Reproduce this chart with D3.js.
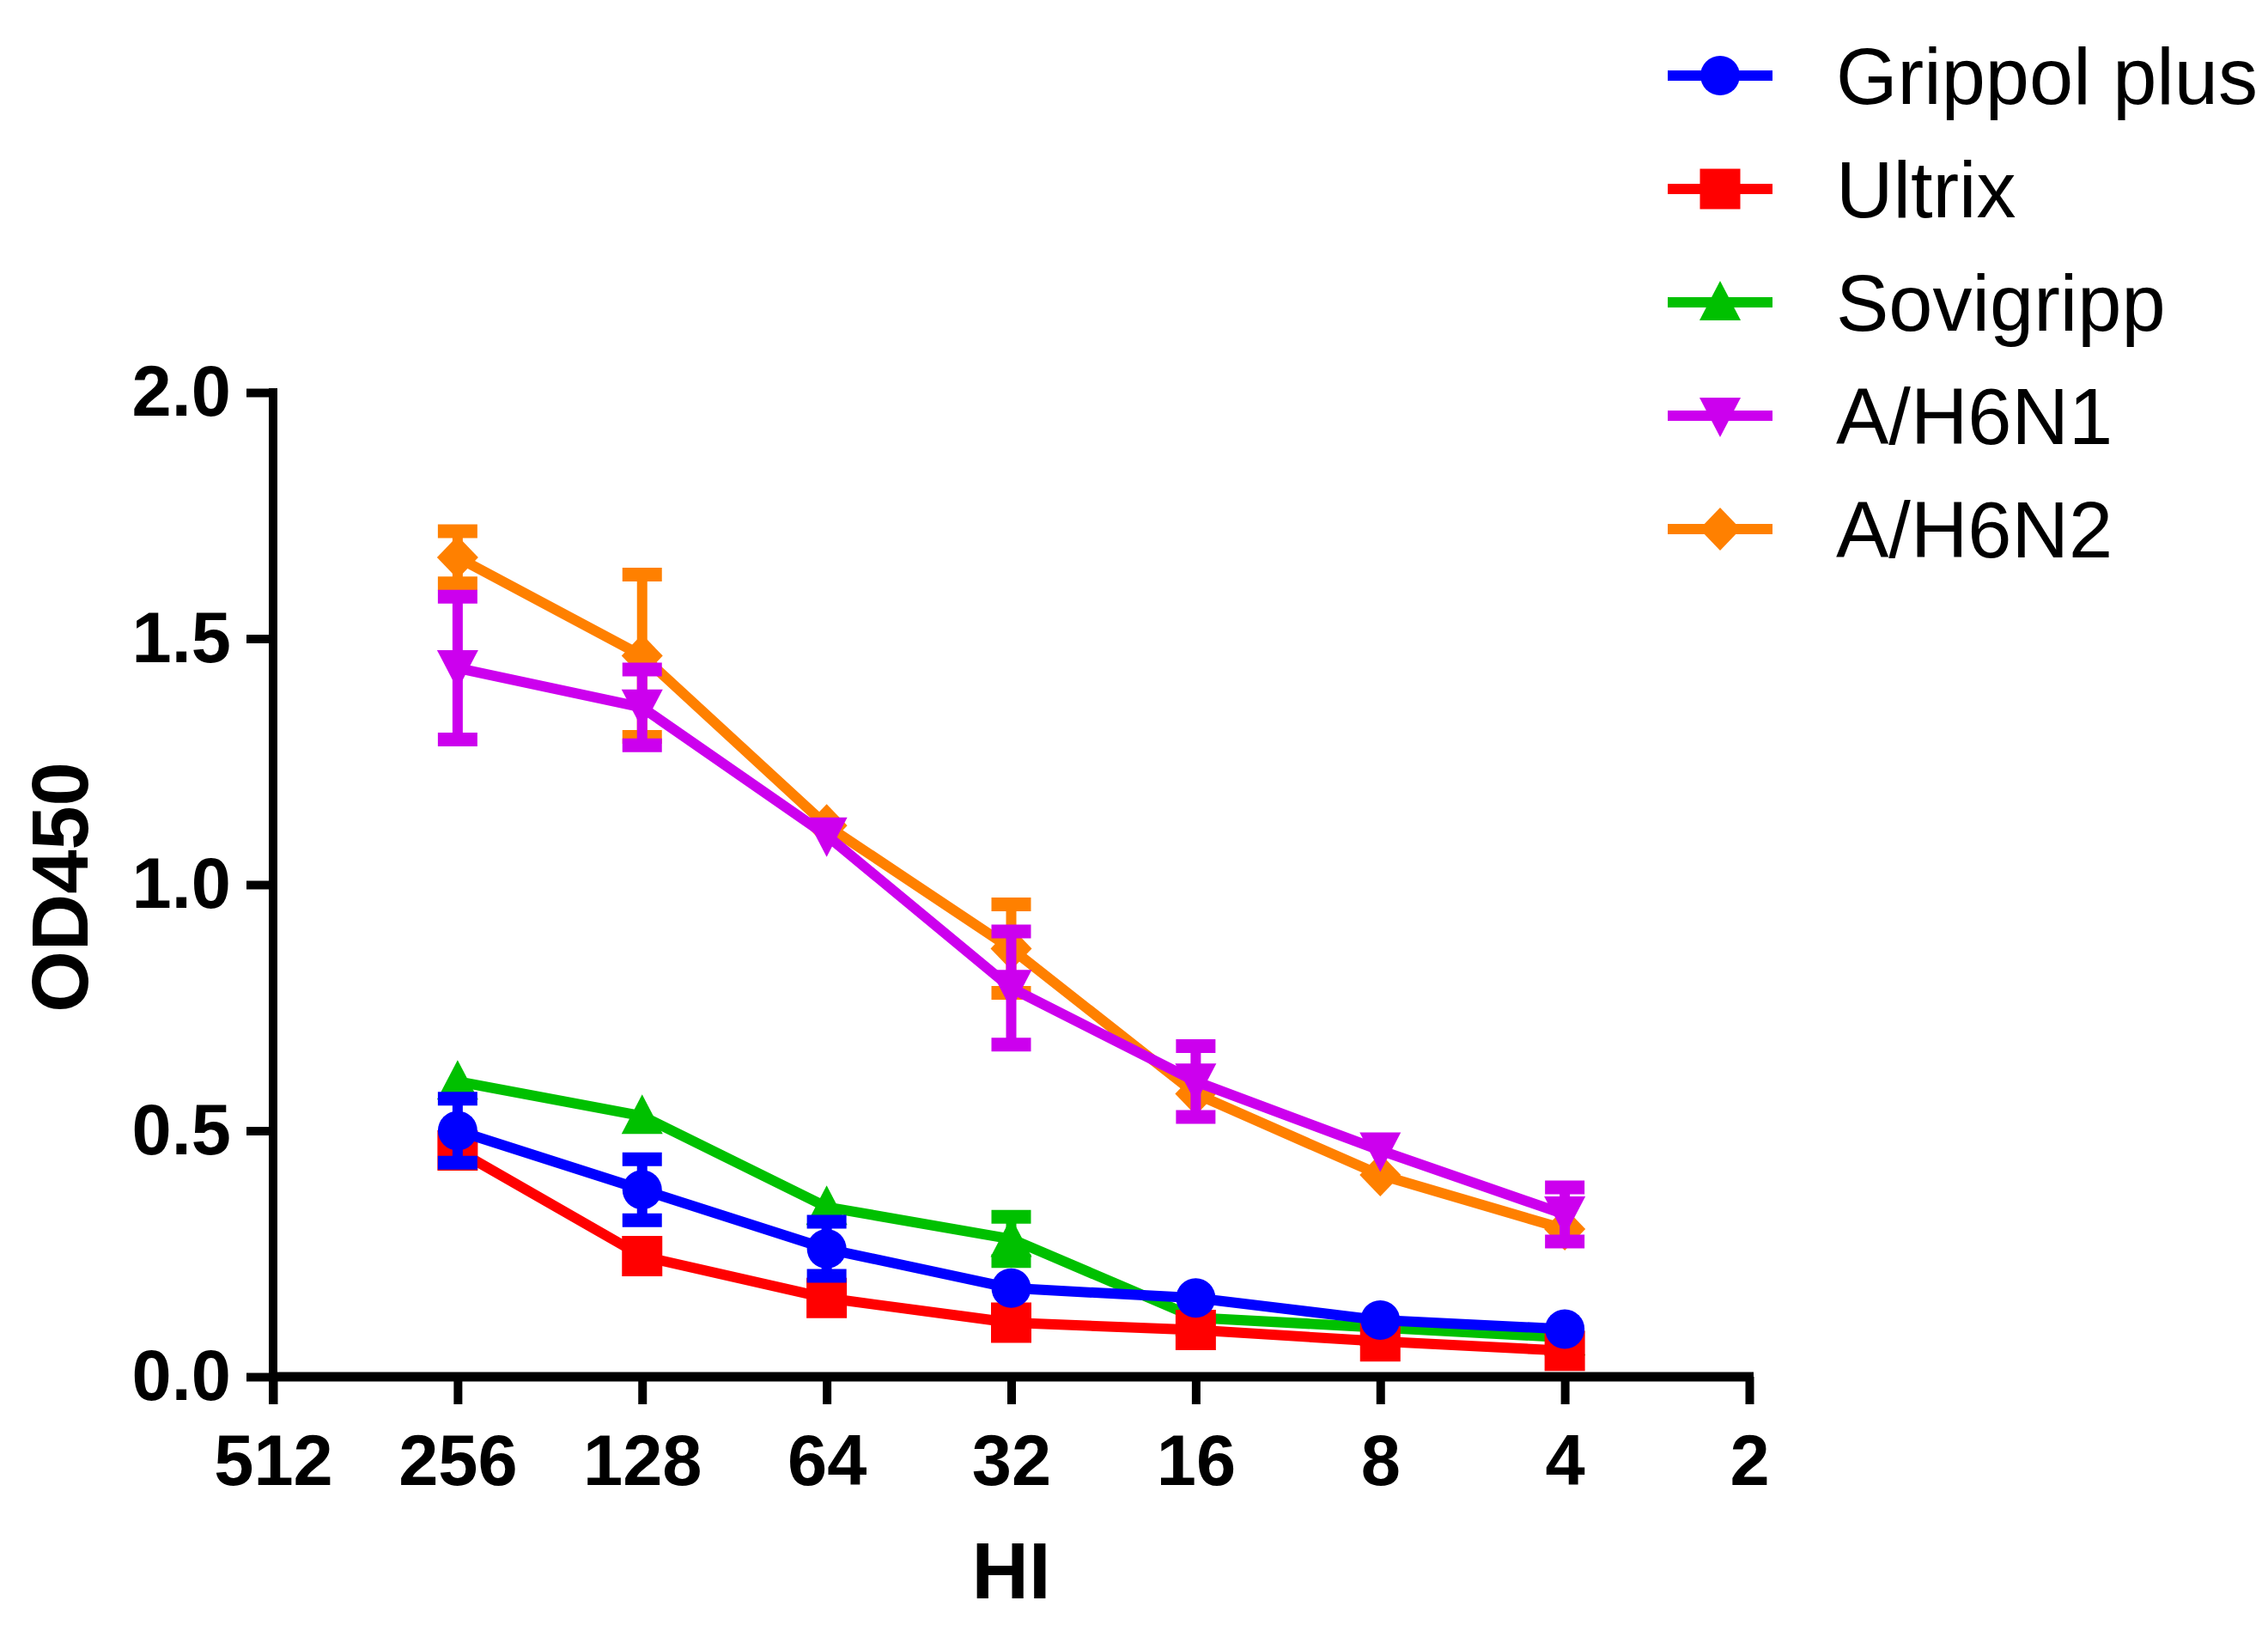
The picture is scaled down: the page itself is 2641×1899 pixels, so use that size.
<!DOCTYPE html>
<html>
<head>
<meta charset="utf-8">
<script src="https://cdn.jsdelivr.net/npm/d3@7"></script>
<style>
  html, body { margin: 0; padding: 0; background: #ffffff; }
  svg { display: block; }
  text { font-family: "Liberation Sans", Arial, Helvetica, sans-serif; }
</style>
</head>
<body>
<svg id="chart" width="2641" height="1899"></svg>
<script>
// ---- data ----
const xTickLabels = [512, 256, 128, 64, 32, 16, 8, 4, 2];
const yTickLabels = [0, 0.5, 1.0, 1.5, 2.0];
const titers = [256, 128, 64, 32, 16, 8, 4];
const seriesNames = ["Grippol plus", "Ultrix", "Sovigripp", "A/H6N1", "A/H6N2"];
const seriesColors = ["#0000FF", "#FF0000", "#00C000", "#CC00EE", "#FF8000"];
const seriesShapes = ["circle", "square", "triangleUp", "triangleDown", "diamond"];

const grippolMean = [0.50, 0.38, 0.26, 0.18, 0.16, 0.115, 0.097];
const grippolErr  = [0.065, 0.062, 0.055, 0, 0, 0, 0];
const ultrixMean  = [0.46, 0.245, 0.16, 0.11, 0.095, 0.072, 0.053];
const ultrixErr   = [0, 0, 0, 0, 0, 0, 0];
const sovigrippMean = [0.60, 0.53, 0.345, 0.28, 0.12, 0.10, 0.08];
const sovigrippErr  = [0, 0, 0, 0.045, 0, 0, 0];
const h6n1Mean = [1.44, 1.36, 1.10, 0.79, 0.60, 0.46, 0.33];
const h6n1Err  = [0.145, 0.077, 0, 0.115, 0.072, 0, 0.055];
const h6n2Mean = [1.665, 1.465, 1.12, 0.87, 0.575, 0.41, 0.30];
const h6n2Err  = [0.053, 0.165, 0, 0.09, 0, 0, 0];

const means = [grippolMean, ultrixMean, sovigrippMean, h6n1Mean, h6n2Mean];
const errs  = [grippolErr, ultrixErr, sovigrippErr, h6n1Err, h6n2Err];

// ---- layout ----
const svg = d3.select("#chart");
const x = d3.scaleLog().base(2).domain([512, 2]).range([318, 2037]);
const y = d3.scaleLinear().domain([0, 2]).range([1603, 457]);

const AXW = 10;
const LINEW = 12;
const fontTick = 83;
const fontTitle = 92;

// symbol paths (centered at 0,0)
function shapePath(shape) {
  switch (shape) {
    case "circle": { const r = 23; return `M${-r},0A${r},${r} 0 1,0 ${r},0A${r},${r} 0 1,0 ${-r},0Z`; }
    case "square": { const h = 23.5; return `M${-h},${-h}H${h}V${h}H${-h}Z`; }
    case "triangleUp": return "M0,-25L24,21L-24,21Z";
    case "triangleDown": return "M0,25L24,-21L-24,-21Z";
    case "diamond": return "M0,-25L24,0L0,25L-24,0Z";
  }
}

// ---- axes ----
const yAxis = d3.axisLeft(y).tickValues(yTickLabels).tickFormat(d3.format(".1f"))
  .tickSize(31).tickSizeOuter(0).tickPadding(18);
const gy = svg.append("g").attr("transform", `translate(${x(512)},0)`).call(yAxis);
gy.select(".domain").remove();
gy.selectAll(".tick line").attr("stroke", "#000").attr("stroke-width", AXW);
gy.selectAll(".tick text").attr("fill", "#000").attr("font-size", fontTick).attr("font-weight", "bold")
  .attr("font-family", "'Liberation Sans', Arial, sans-serif");

const xAxis = d3.axisBottom(x).tickValues(xTickLabels).tickFormat(d => String(d))
  .tickSize(32).tickSizeOuter(0).tickPadding(35);
const gx = svg.append("g").attr("transform", `translate(0,${y(0)})`).call(xAxis);
gx.select(".domain").remove();
gx.selectAll(".tick line").attr("stroke", "#000").attr("stroke-width", AXW);
gx.selectAll(".tick text").attr("fill", "#000").attr("font-size", fontTick).attr("font-weight", "bold")
  .attr("font-family", "'Liberation Sans', Arial, sans-serif");

// axis lines
svg.append("line").attr("x1", x(512)).attr("x2", x(512))
  .attr("y1", y(2) - AXW / 2).attr("y2", y(0) + 32)
  .attr("stroke", "#000").attr("stroke-width", AXW);
svg.append("line").attr("x1", x(512) - AXW / 2).attr("x2", x(2) + AXW / 2)
  .attr("y1", y(0)).attr("y2", y(0))
  .attr("stroke", "#000").attr("stroke-width", AXW + 1);

// axis titles
svg.append("text").attr("transform", `translate(102,${(y(0) + y(2)) / 2 + 3}) rotate(-90)`)
  .attr("text-anchor", "middle").attr("font-size", fontTitle).attr("font-weight", "bold")
  .text("OD450");
svg.append("text").attr("x", x(32)).attr("y", 1861)
  .attr("text-anchor", "middle").attr("font-size", fontTitle).attr("font-weight", "bold")
  .text("HI");

// ---- series (drawn in reverse so first series sits on top) ----
const lineGen = d3.line().x(d => x(d.t)).y(d => y(d.v));
const order = d3.range(seriesNames.length).reverse();
order.forEach(i => {
  const pts = titers.map((t, j) => ({ t, v: means[i][j], e: errs[i][j] }));
  const g = svg.append("g").attr("class", "series");
  const col = seriesColors[i];
  // error bars
  pts.filter(p => p.e > 0).forEach(p => {
    const cx = x(p.t);
    g.append("line").attr("x1", cx).attr("x2", cx).attr("y1", y(p.v + p.e)).attr("y2", y(p.v - p.e))
      .attr("stroke", col).attr("stroke-width", 12);
    [p.v + p.e, p.v - p.e].forEach(v => {
      g.append("line").attr("x1", cx - 23).attr("x2", cx + 23).attr("y1", y(v)).attr("y2", y(v))
        .attr("stroke", col).attr("stroke-width", 16);
    });
  });
  g.append("path").datum(pts).attr("d", lineGen)
    .attr("fill", "none").attr("stroke", col).attr("stroke-width", LINEW).attr("stroke-linejoin", "round");
  g.selectAll("path.marker").data(pts).enter().append("path").attr("class", "marker")
    .attr("d", shapePath(seriesShapes[i]))
    .attr("transform", d => `translate(${x(d.t)},${y(d.v)})`)
    .attr("fill", col);
});

// ---- legend ----
const legendX1 = 1942, legendX2 = 2064, legendTextX = 2138;
const legendY0 = 88, legendStep = 132;
seriesNames.forEach((name, i) => {
  const cy = legendY0 + i * legendStep;
  const g = svg.append("g");
  g.append("line").attr("x1", legendX1).attr("x2", legendX2).attr("y1", cy).attr("y2", cy)
    .attr("stroke", seriesColors[i]).attr("stroke-width", LINEW);
  g.append("path").attr("d", shapePath(seriesShapes[i]))
    .attr("transform", `translate(${(legendX1 + legendX2) / 2},${cy})`)
    .attr("fill", seriesColors[i]);
  g.append("text").attr("x", legendTextX).attr("y", cy + 33)
    .attr("font-size", fontTitle).attr("fill", "#000").text(name);
});
</script>
</body>
</html>
